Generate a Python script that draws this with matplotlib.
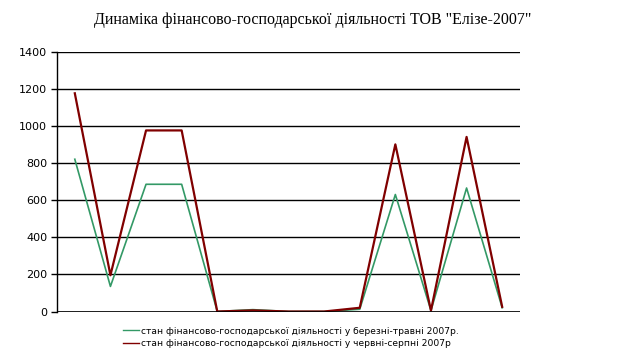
import matplotlib
matplotlib.use("Agg")
import matplotlib.pyplot as plt

categories = list(range(1, 14))
series_spring = [820, 135, 685, 685, 0, 10, 0, 0, 12, 630, 5, 665, 20]
series_summer = [1175, 195, 975, 975, 0, 6, 0, 0, 20, 900, 5, 940, 25]
label_spring = "стан фінансово-господарської діяльності у березні-травні 2007р."
label_summer = "стан фінансово-господарської діяльності у червні-серпні 2007р"
title = 'Динаміка фінансово-господарської діяльності ТОВ "Елізе-2007"'
yticks = [0, 200, 400, 600, 800, 1000, 1200, 1400]

fig = plt.figure(figsize=(6.27, 3.55), dpi=100)
ax = fig.add_axes([57/627, 1-311.5/355, 463/627, 260/355])

l1, = ax.plot(categories, series_spring, color="#339966", lw=1.2, label=label_spring, zorder=2)
l2, = ax.plot(categories, series_summer, color="#800000", lw=1.6, label=label_summer, zorder=2)

ax.set_xlim(0.5, 13.5)
ax.set_ylim(0, 1400)
ax.set_yticks(yticks)
ax.set_yticklabels([str(v) for v in yticks], fontsize=8, family="DejaVu Sans")
ax.set_xticks([])
ax.tick_params(axis="y", direction="out", length=4, width=1, color="black", pad=3)
ax.yaxis.grid(True, color="black", lw=1)
ax.set_axisbelow(True)
for s in ["top", "right", "bottom"]:
    ax.spines[s].set_visible(False)
ax.spines["left"].set_color("black")
ax.spines["left"].set_linewidth(1)
ax.axhline(0, color="black", lw=1.2, zorder=3)

fig.text(313/627, 1-20/355, title, ha="center", va="center",
         fontsize=11.5, family="Liberation Serif")

fig.legend(handles=[l1, l2], loc="upper left", bbox_to_anchor=(118/627, 1-322/355),
           frameon=False, handlelength=1.8, handletextpad=0.2,
           labelspacing=0.35, borderpad=0, prop={"family": "DejaVu Sans", "size": 6.6})
for h in fig.legends[0].get_lines():
    h.set_linewidth(1)

fig.savefig("out.png", dpi=100)
